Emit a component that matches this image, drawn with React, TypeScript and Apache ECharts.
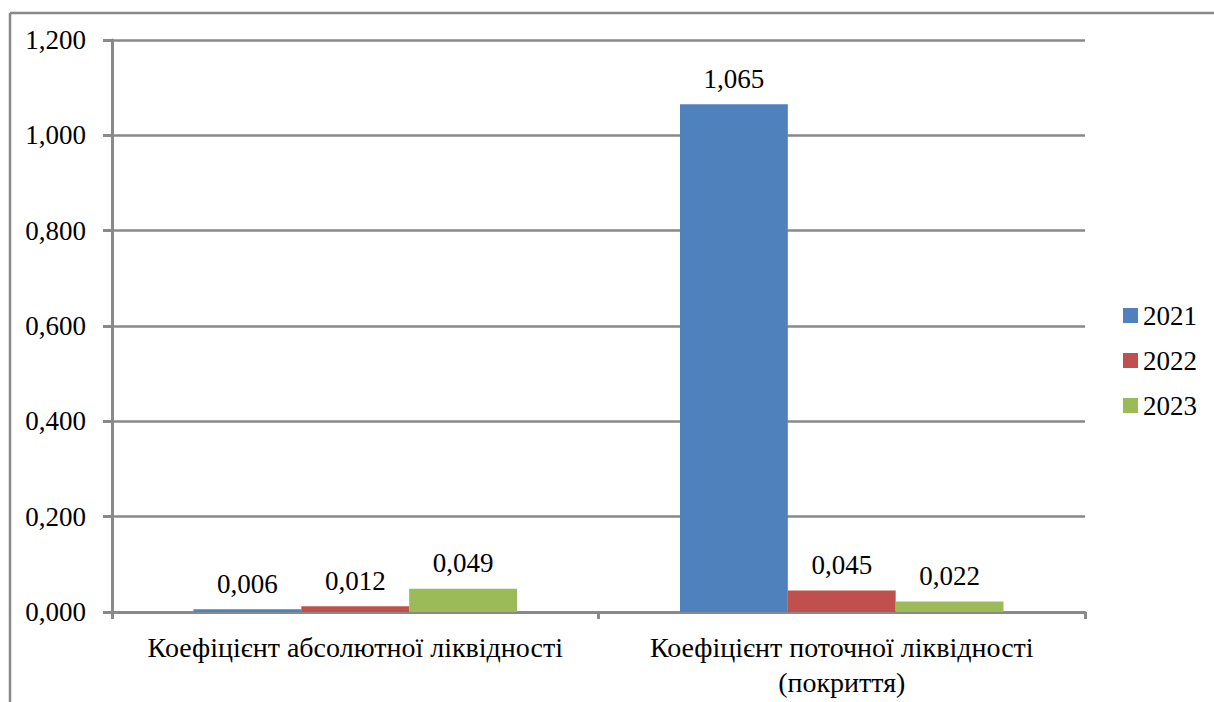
import React, { useEffect, useRef } from "react";
import * as echarts from "echarts";

const categories = [
  "Коефіцієнт абсолютної ліквідності",
  "Коефіцієнт поточної ліквідності\n(покриття)",
];
const seriesNames = ["2021", "2022", "2023"];
const values2021 = [0.006, 1.065];
const values2022 = [0.012, 0.045];
const values2023 = [0.049, 0.022];
const colors = ["#4F81BD", "#C0504D", "#9BBB59"];

const fmt = (v: number) => v.toFixed(3).replace(".", ",");
const FONT = "Liberation Serif";
const GRAY = "#898989";

export default function App() {
  const ref = useRef<HTMLDivElement>(null);
  useEffect(() => {
    if (!ref.current) return;
    const chart = echarts.init(ref.current, undefined, { renderer: "svg" });
    const data = [values2021, values2022, values2023];
    chart.setOption({
      animation: false,
      backgroundColor: "#ffffff",
      textStyle: { fontFamily: FONT },
      grid: { left: 112, right: 129, top: 40, bottom: 90, containLabel: false },
      legend: {
        orient: "vertical",
        left: 1118,
        top: 297,
        itemWidth: 15,
        itemHeight: 15,
        itemGap: 18,
        icon: "rect",
        textStyle: { fontFamily: FONT, fontSize: 27, color: "#000" },
        data: seriesNames,
      },
      xAxis: {
        type: "category",
        data: categories,
        axisLine: { lineStyle: { color: GRAY, width: 3 } },
        axisTick: { show: true, interval: 0, length: 7, lineStyle: { color: GRAY, width: 3 } },
        axisLabel: {
          interval: 0,
          hideOverlap: false,
          color: "#000",
          fontFamily: FONT,
          fontSize: 28,
          margin: 18,
          lineHeight: 35,
        },
      },
      yAxis: {
        type: "value",
        min: 0,
        max: 1.2,
        interval: 0.2,
        axisLine: { show: true, lineStyle: { color: GRAY, width: 3 } },
        axisTick: { show: true, inside: false, length: 9, lineStyle: { color: GRAY, width: 3 } },
        splitLine: { show: true, lineStyle: { color: GRAY, width: 2.5 } },
        axisLabel: {
          color: "#000",
          fontFamily: FONT,
          fontSize: 27,
          margin: 26,
          formatter: (v: number) => fmt(v),
        },
      },
      series: seriesNames.map((name, i) => ({
        name,
        type: "bar",
        data: data[i],
        barGap: "0%",
        barCategoryGap: "33.5%",
        itemStyle: { color: colors[i] },
        label: {
          show: true,
          position: "top",
          distance: 12,
          color: "#000",
          fontFamily: FONT,
          fontSize: 27,
          formatter: (p: any) => fmt(p.value),
        },
      })),
      graphic: [
        {
          type: "line",
          shape: { x1: 10, y1: 13, x2: 10, y2: 702 },
          style: { stroke: GRAY, lineWidth: 2.5 },
        },
        {
          type: "line",
          shape: { x1: 10, y1: 13, x2: 1214, y2: 13 },
          style: { stroke: GRAY, lineWidth: 2.5 },
        },
      ],
    });
    return () => chart.dispose();
  }, []);
  return (
    <div
      ref={ref}
      style={{ position: "fixed", left: 0, top: 0, width: 1214, height: 702, background: "#fff" }}
    />
  );
}
